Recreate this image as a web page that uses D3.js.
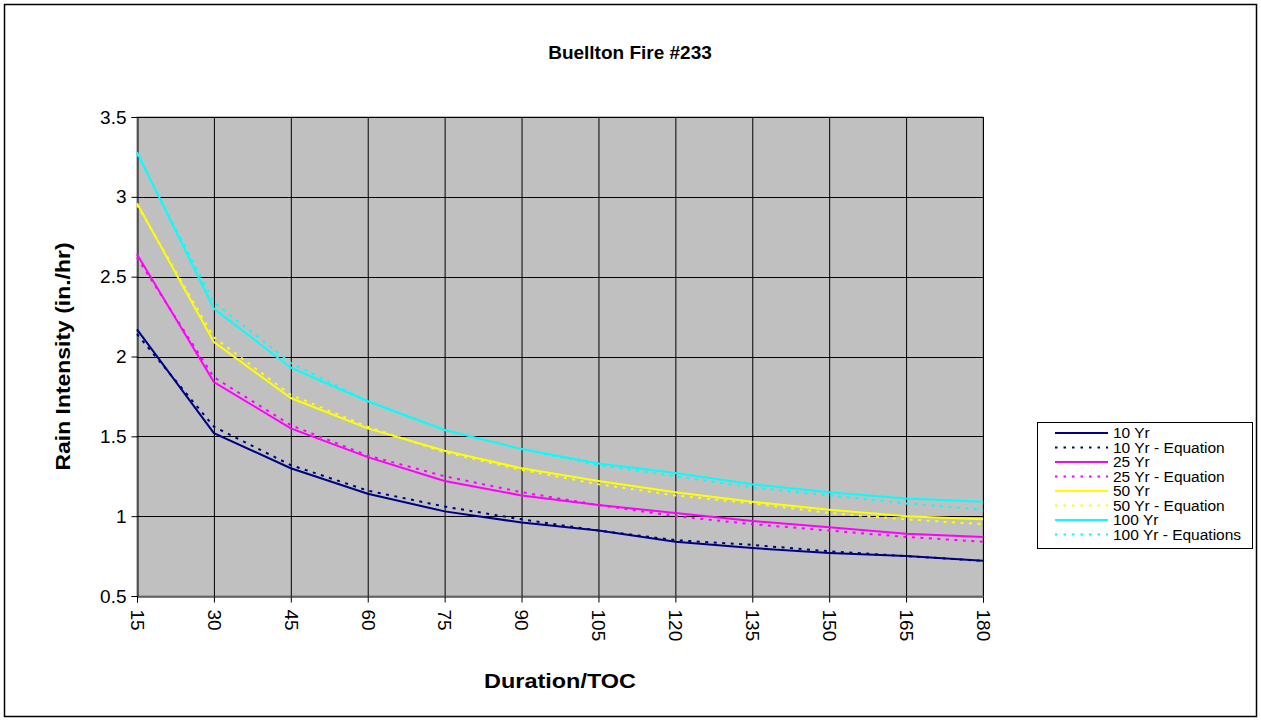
<!DOCTYPE html>
<html>
<head>
<meta charset="utf-8">
<script src="https://cdn.jsdelivr.net/npm/d3@7"></script>
<style>
  body { margin: 0; background: #fff; }
  svg { display: block; font-family: Arial, "Liberation Sans", sans-serif; }
</style>
</head>
<body>
<script>
// durations (min)
const durations = [15, 30, 45, 60, 75, 90, 105, 120, 135, 150, 165, 180];
const yTicks = [0.5, 1, 1.5, 2, 2.5, 3, 3.5];

// rain intensity
const yr10 = [2.17, 1.52, 1.30, 1.14, 1.03, 0.96, 0.91, 0.84, 0.80, 0.77, 0.75, 0.72];
const yr10Eq = [2.14, 1.56, 1.32, 1.16, 1.06, 0.98, 0.91, 0.85, 0.82, 0.78, 0.75, 0.72];
const yr25 = [2.64, 1.84, 1.55, 1.37, 1.22, 1.13, 1.07, 1.02, 0.97, 0.93, 0.89, 0.87];
const yr25Eq = [2.62, 1.87, 1.57, 1.38, 1.25, 1.15, 1.07, 1.00, 0.95, 0.91, 0.87, 0.84];
const yr50 = [2.96, 2.09, 1.74, 1.55, 1.41, 1.30, 1.22, 1.15, 1.09, 1.04, 1.00, 0.98];
const yr50Eq = [2.95, 2.12, 1.76, 1.56, 1.40, 1.29, 1.20, 1.13, 1.08, 1.02, 0.98, 0.95];
const yr100 = [3.28, 2.30, 1.93, 1.72, 1.54, 1.42, 1.33, 1.27, 1.20, 1.15, 1.11, 1.09];
const yr100Eq = [3.27, 2.34, 1.96, 1.72, 1.54, 1.42, 1.32, 1.25, 1.18, 1.13, 1.08, 1.04];

const series = [
  { name: "10 Yr", values: yr10, color: "#000080", dashed: false },
  { name: "10 Yr - Equation", values: yr10Eq, color: "#000080", dashed: true },
  { name: "25 Yr", values: yr25, color: "#ff00ff", dashed: false },
  { name: "25 Yr - Equation", values: yr25Eq, color: "#ff00ff", dashed: true },
  { name: "50 Yr", values: yr50, color: "#ffff00", dashed: false },
  { name: "50 Yr - Equation", values: yr50Eq, color: "#ffff00", dashed: true },
  { name: "100 Yr", values: yr100, color: "#00ffff", dashed: false },
  { name: "100 Yr - Equations", values: yr100Eq, color: "#00ffff", dashed: true }
];

const width = 1261, height = 721;
const plot = { left: 137, right: 983, top: 117, bottom: 596 };

const svg = d3.select("body").append("svg")
  .attr("width", width)
  .attr("height", height);

// outer chart border
svg.append("rect")
  .attr("x", 4.5).attr("y", 4.5)
  .attr("width", 1252).attr("height", 712)
  .attr("fill", "#fff").attr("stroke", "#000").attr("stroke-width", 1.5);

const x = d3.scalePoint().domain(durations).range([plot.left, plot.right]);
const y = d3.scaleLinear().domain([0.5, 3.5]).range([plot.bottom, plot.top]);

// plot area
svg.append("rect")
  .attr("x", plot.left).attr("y", plot.top)
  .attr("width", plot.right - plot.left).attr("height", plot.bottom - plot.top)
  .attr("fill", "#c0c0c0").attr("stroke", "#808080").attr("stroke-width", 1);

const grid = svg.append("g");
grid.selectAll(".vg").data(durations.slice(1)).enter().append("line")
  .attr("x1", d => x(d) + 0.5).attr("x2", d => x(d) + 0.5)
  .attr("y1", plot.top).attr("y2", plot.bottom)
  .attr("stroke", "#000").attr("stroke-width", 1);
grid.selectAll(".hg").data(yTicks.slice(1)).enter().append("line")
  .attr("x1", plot.left).attr("x2", plot.right)
  .attr("y1", d => Math.round(y(d)) + 0.5).attr("y2", d => Math.round(y(d)) + 0.5)
  .attr("stroke", "#000").attr("stroke-width", 1);

// axes
const yAxis = svg.append("g")
  .attr("transform", `translate(${plot.left + 0.5},0)`)
  .call(d3.axisLeft(y).tickValues(yTicks).tickSize(6).tickPadding(5).tickFormat(d3.format("")));
yAxis.selectAll("text").attr("font-size", 19).attr("font-family", "Arial, 'Liberation Sans', sans-serif").attr("fill", "#000");

const xAxis = svg.append("g")
  .attr("transform", `translate(0,${plot.bottom + 0.5})`)
  .call(d3.axisBottom(x).tickSize(6));
xAxis.selectAll("text")
  .attr("font-size", 19).attr("font-family", "Arial, 'Liberation Sans', sans-serif").attr("fill", "#000")
  .attr("text-anchor", "start")
  .attr("dy", "0.35em")
  .attr("transform", "translate(0,4) rotate(90)")
  .attr("x", 9).attr("y", 0);
svg.selectAll(".domain").attr("stroke", "#000");

// series lines
const line = d3.line().x((d, i) => x(durations[i])).y(d => y(d));
svg.append("g").selectAll("path").data(series).enter().append("path")
  .attr("d", d => line(d.values))
  .attr("fill", "none")
  .attr("stroke", d => d.color)
  .attr("stroke-width", 2)
  .attr("stroke-dasharray", d => d.dashed ? "3,5.5" : null);

// title and axis titles
svg.append("text").attr("x", 630).attr("y", 59)
  .attr("text-anchor", "middle").attr("font-size", 19).attr("font-weight", "bold")
  .text("Buellton Fire #233");
svg.append("text").attr("x", 560).attr("y", 688)
  .attr("text-anchor", "middle").attr("font-size", 21).attr("font-weight", "bold")
  .attr("textLength", 152).attr("lengthAdjust", "spacingAndGlyphs")
  .text("Duration/TOC");
svg.append("text")
  .attr("transform", `translate(70,${(plot.top + plot.bottom) / 2}) rotate(-90)`)
  .attr("text-anchor", "middle").attr("font-size", 21).attr("font-weight", "bold")
  .attr("textLength", 228).attr("lengthAdjust", "spacingAndGlyphs")
  .text("Rain Intensity (in./hr)");

// legend
const legend = svg.append("g");
legend.append("rect")
  .attr("x", 1037.5).attr("y", 422.5).attr("width", 215).attr("height", 126)
  .attr("fill", "#fff").attr("stroke", "#000").attr("stroke-width", 1);
const items = legend.selectAll(".item").data(series).enter().append("g")
  .attr("transform", (d, i) => `translate(0,${433 + i * 14.5})`);
items.append("line")
  .attr("x1", 1055).attr("x2", 1108).attr("y1", 0).attr("y2", 0)
  .attr("stroke", d => d.color).attr("stroke-width", 2)
  .attr("stroke-dasharray", d => d.dashed ? "2.5,6" : null);
items.append("text")
  .attr("x", 1113).attr("y", 0).attr("dy", "0.35em")
  .attr("font-size", 15.5)
  .text(d => d.name);
</script>
</body>
</html>
